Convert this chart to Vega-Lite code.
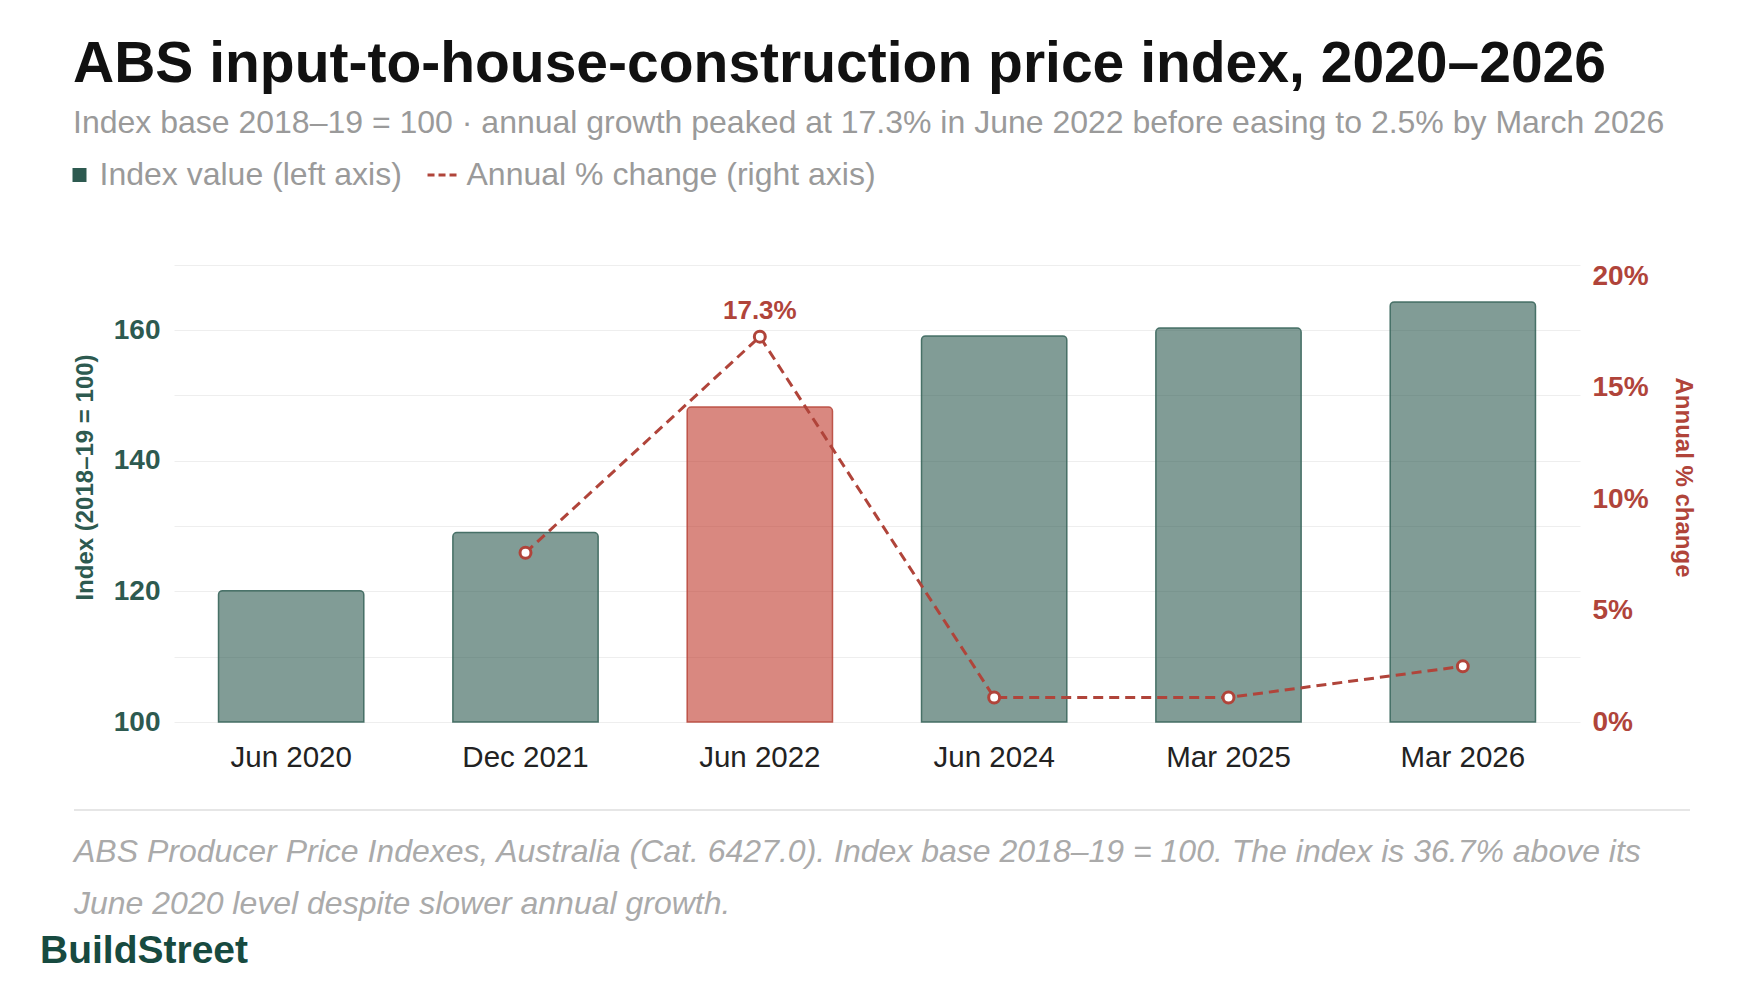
{
  "$schema": "https://vega.github.io/schema/vega-lite/v6.json",
  "background": "white",
  "padding": {"left": 40, "top": 36, "right": 20, "bottom": 0},
  "title": {
    "text": "ABS input-to-house-construction price index, 2020–2026",
    "subtitle": "Index base 2018–19 = 100 · annual growth peaked at 17.3% in June 2022 before easing to 2.5% by March 2026",
    "anchor": "start",
    "frame": "group",
    "dx": 33,
    "font": "Liberation Sans",
    "fontSize": 57,
    "fontWeight": "bold",
    "color": "#111111",
    "subtitleFont": "Liberation Sans",
    "subtitleFontSize": 32,
    "subtitleColor": "#9a9a9a",
    "subtitlePadding": 14,
    "offset": 18.8
  },
  "spacing": 12,
  "vconcat": [
    {
      "spacing": 0,
      "hconcat": [
        {
          "width": 33,
          "height": 1,
          "data": {"values": [{"k": 0}]},
          "mark": {"type": "rule", "opacity": 0},
          "encoding": {
            "y": {"datum": 0, "type": "quantitative", "scale": {"domain": [0, 1]}, "axis": null}
          }
        },
        {
          "width": 1406,
          "height": 490,
          "data": {
            "values": [
              {"period": "Jun 2020", "index": 120.1, "change": null},
              {"period": "Dec 2021", "index": 129.0, "change": 0.076},
              {"period": "Jun 2022", "index": 148.2, "change": 0.173},
              {"period": "Jun 2024", "index": 159.1, "change": 0.011},
              {"period": "Mar 2025", "index": 160.3, "change": 0.011},
              {"period": "Mar 2026", "index": 164.3, "change": 0.025}
            ]
          },
          "encoding": {
            "x": {
              "field": "period",
              "type": "nominal",
              "sort": null,
              "scale": {
                "domain": ["Jun 2020", "Dec 2021", "Jun 2022", "Jun 2024", "Mar 2025", "Mar 2026"],
                "paddingInner": 0.38,
                "paddingOuter": 0.19
              },
              "axis": {
                "title": null,
                "labelAngle": 0,
                "labelFont": "Liberation Sans",
                "labelFontSize": 29.5,
                "labelColor": "#222222",
                "labelPadding": 21,
                "ticks": false,
                "tickSize": 0,
                "domain": false,
                "grid": false
              }
            }
          },
          "layer": [
            {
              "mark": {
                "type": "bar",
                "fillOpacity": 0.6,
                "strokeWidth": 1.5,
                "strokeOpacity": 0.9,
                "cornerRadiusTopLeft": 4,
                "cornerRadiusTopRight": 4
              },
              "encoding": {
                "y": {
                  "field": "index",
                  "type": "quantitative",
                  "scale": {"domain": [100, 175], "zero": false, "nice": false},
                  "axis": {
                    "title": "Index (2018–19 = 100)",
                    "values": [100, 110, 120, 130, 140, 150, 160, 170],
                    "labelExpr": "datum.value % 20 === 0 ? datum.label : ''",
                    "grid": true,
                    "gridColor": "#eeeeee",
                    "gridWidth": 1,
                    "domain": false,
                    "ticks": false,
                    "tickSize": 0,
                    "labelPadding": 14,
                    "labelFont": "Liberation Sans",
                    "labelFontSize": 28,
                    "labelFontWeight": "bold",
                    "labelColor": "#2d5a50",
                    "titleFont": "Liberation Sans",
                    "titleFontSize": 24,
                    "titleFontWeight": "bold",
                    "titleColor": "#2d5a50",
                    "titlePadding": 16
                  }
                },
                "y2": {"datum": 100},
                "color": {
                  "condition": {"test": "datum.period === 'Jun 2022'", "value": "#c0392b"},
                  "datum": "Index value (left axis)",
                  "type": "nominal",
                  "scale": {
                    "domain": ["Index value (left axis)", "Annual % change (right axis)"],
                    "range": ["#2d5a50", "#b0443a"]
                  },
                  "legend": {
                    "title": null,
                    "orient": "none",
                    "legendX": 23.5,
                    "legendY": -73,
                    "direction": "horizontal",
                    "padding": 0,
                    "labelFont": "Liberation Sans",
                    "labelFontSize": 32,
                    "labelColor": "#9a9a9a",
                    "labelLimit": 800,
                    "labelOffset": 4,
                    "columnPadding": 19,
                    "symbolSize": 676,
                    "encoding": {
                      "symbols": {
                        "shape": {"value": {"expr": "datum.value === 'Index value (left axis)' ? 'square' : 'M-1.46,0L0.77,0'"}},
                        "size": {"value": {"expr": "datum.value === 'Index value (left axis)' ? 196 : 676"}},
                        "fill": {"value": {"expr": "datum.value === 'Index value (left axis)' ? '#2d5a50' : 'transparent'"}},
                        "stroke": {"value": {"expr": "datum.value === 'Index value (left axis)' ? '#2d5a50' : '#b0443a'"}},
                        "strokeWidth": {"value": {"expr": "datum.value === 'Index value (left axis)' ? 0 : 3"}},
                        "strokeDash": {"value": [7, 4]},
                        "opacity": {"value": 1},
                        "fillOpacity": {"value": 1},
                        "strokeOpacity": {"value": 1}
                      }
                    }
                  }
                },
                "stroke": {
                  "condition": {"test": "datum.period === 'Jun 2022'", "value": "#b8483d"},
                  "value": "#3a665c"
                }
              }
            },
            {
              "encoding": {
                "y": {
                  "field": "change",
                  "type": "quantitative",
                  "scale": {"domain": [0, 0.22], "nice": false},
                  "axis": {
                    "orient": "right",
                    "title": "Annual % change",
                    "values": [0, 0.05, 0.1, 0.15, 0.2],
                    "format": ".0%",
                    "grid": false,
                    "domain": false,
                    "ticks": false,
                    "tickSize": 0,
                    "labelPadding": 12,
                    "labelFont": "Liberation Sans",
                    "labelFontSize": 28,
                    "labelFontWeight": "bold",
                    "labelColor": "#b0443a",
                    "titleFont": "Liberation Sans",
                    "titleFontSize": 24,
                    "titleFontWeight": "bold",
                    "titleColor": "#b0443a",
                    "titlePadding": 22
                  }
                }
              },
              "layer": [
                {
                  "mark": {"type": "line", "strokeWidth": 3, "strokeDash": [10, 6]},
                  "encoding": {
                    "color": {"datum": "Annual % change (right axis)", "type": "nominal"}
                  }
                },
                {
                  "mark": {"type": "point", "filled": true, "fill": "white", "stroke": "#b0443a", "strokeWidth": 3, "size": 120, "opacity": 1},
                  "encoding": {}
                },
                {
                  "transform": [{"filter": "datum.period === 'Jun 2022'"}],
                  "mark": {"type": "text", "dy": -26, "baseline": "middle", "font": "Liberation Sans", "fontSize": 26, "fontWeight": "bold", "color": "#b0443a"},
                  "encoding": {
                    "text": {"field": "change", "type": "quantitative", "format": ".1%"}
                  }
                }
              ]
            }
          ],
          "resolve": {"scale": {"y": "independent"}}
        }
      ]
    },
    {
      "spacing": 0,
      "hconcat": [
        {
          "width": 33,
          "height": 1,
          "data": {"values": [{"k": 0}]},
          "mark": {"type": "rule", "opacity": 0},
          "encoding": {
            "y": {"datum": 0, "type": "quantitative", "scale": {"domain": [0, 1]}, "axis": null}
          }
        },
        {
          "width": 1616,
          "height": 26,
          "data": {"values": [{"k": 0}]},
          "title": {
            "text": [
              "ABS Producer Price Indexes, Australia (Cat. 6427.0). Index base 2018–19 = 100. The index is 36.7% above its",
              "June 2020 level despite slower annual growth."
            ],
            "orient": "bottom",
            "anchor": "start",
            "frame": "group",
            "baseline": "top",
            "font": "Liberation Sans",
            "fontSize": 32,
            "fontStyle": "italic",
            "fontWeight": "normal",
            "color": "#aaaaaa",
            "lineHeight": 52,
            "offset": 26
          },
          "mark": {"type": "rule", "color": "#e6e6e6", "strokeWidth": 2},
          "encoding": {
            "y": {"datum": 0, "type": "quantitative", "scale": {"domain": [0, 1]}, "axis": null}
          }
        }
      ]
    },
    {
      "width": 300,
      "height": 1,
      "data": {"values": [{"k": 0}]},
      "title": {
        "text": "BuildStreet",
        "orient": "top",
        "anchor": "start",
        "frame": "group",
        "baseline": "top",
        "font": "Liberation Sans",
        "fontSize": 39,
        "fontWeight": "bold",
        "color": "#174a40",
        "offset": 0
      },
      "mark": {"type": "rule", "opacity": 0},
      "encoding": {
        "y": {"datum": 0, "type": "quantitative", "scale": {"domain": [0, 1]}, "axis": null}
      }
    }
  ],
  "config": {
    "view": {"stroke": null},
    "font": "Liberation Sans"
  }
}
